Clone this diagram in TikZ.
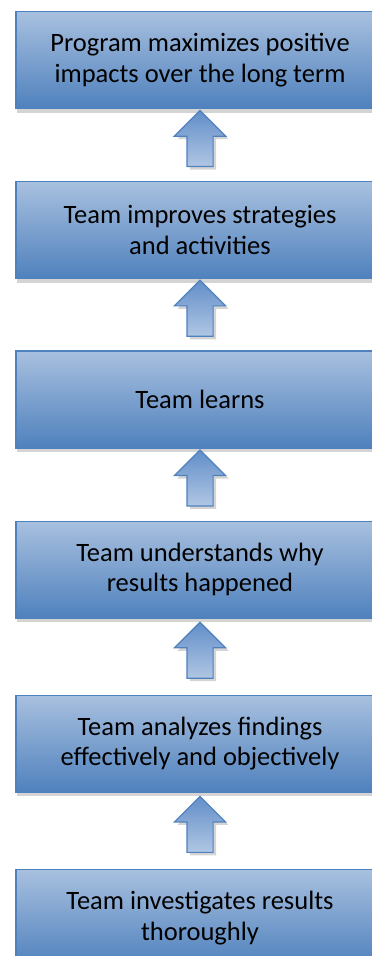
\documentclass[tikz,border=0pt]{standalone}
\usepackage{fontspec}
\setmainfont{Carlito}
\usetikzlibrary{shapes.arrows, positioning, shadows, calc}
\definecolor{boxtop}{RGB}{168,192,223}
\definecolor{boxbottom}{RGB}{79,129,189}
\definecolor{boxline}{RGB}{79,129,189}
\definecolor{arrowdark}{RGB}{98,142,200}
\definecolor{arrowlight}{RGB}{176,198,228}
\definecolor{shadowgray}{RGB}{212,212,212}

\begin{document}
\begin{tikzpicture}[
    x=1pt, y=1pt,
    node distance=72pt,
    stage/.style={draw=boxline, line width=1.2pt, top color=boxtop,
                  bottom color=boxbottom, minimum width=368pt,
                  minimum height=97pt, align=center,
                  font=\fontsize{26.5}{30.5}\selectfont,
                  drop shadow={shadow xshift=1pt, shadow yshift=-4pt,
                               fill=shadowgray, opacity=1}},
    uparrow/.style={single arrow, draw=boxline, line width=1.2pt,
                    rotate=90, minimum height=56pt, inner xsep=0pt,
                    inner ysep=12.5pt, single arrow head extend=12.5pt,
                    single arrow tip angle=90, single arrow head indent=0pt,
                    top color=arrowdark, bottom color=arrowlight,
                    drop shadow={shadow xshift=3pt, shadow yshift=-3pt,
                                 fill=shadowgray, opacity=1}}
]
    \clip (0,0) rectangle (372,-956);
    \node[stage] (maximize) at (200,-60) {Program maximizes positive\\impacts over the long term};
    \node[stage, below=of maximize] (improve) {Team improves strategies\\and activities};
    \node[stage, below=71pt of improve] (learn) {Team learns};
    \node[stage, below=of learn] (understand) {Team understands why\\results happened};
    \node[stage, below=76pt of understand] (analyze) {Team analyzes findings\\effectively and objectively};
    \node[stage, below=76pt of analyze] (investigate) {Team investigates results\\thoroughly};

    % block arrows between the stages
    \node[uparrow] (up1) at ($(improve.north)!0.5!(maximize.south)$) {};
    \node[uparrow] (up2) at ($(learn.north)!0.5!(improve.south)$) {};
    \node[uparrow] (up3) at ($(understand.north)!0.5!(learn.south)$) {};
    \node[uparrow] (up4) at ($(analyze.north)!0.5!(understand.south)$) {};
    \node[uparrow] (up5) at ($(investigate.north)!0.5!(analyze.south)$) {};
\end{tikzpicture}
\end{document}
